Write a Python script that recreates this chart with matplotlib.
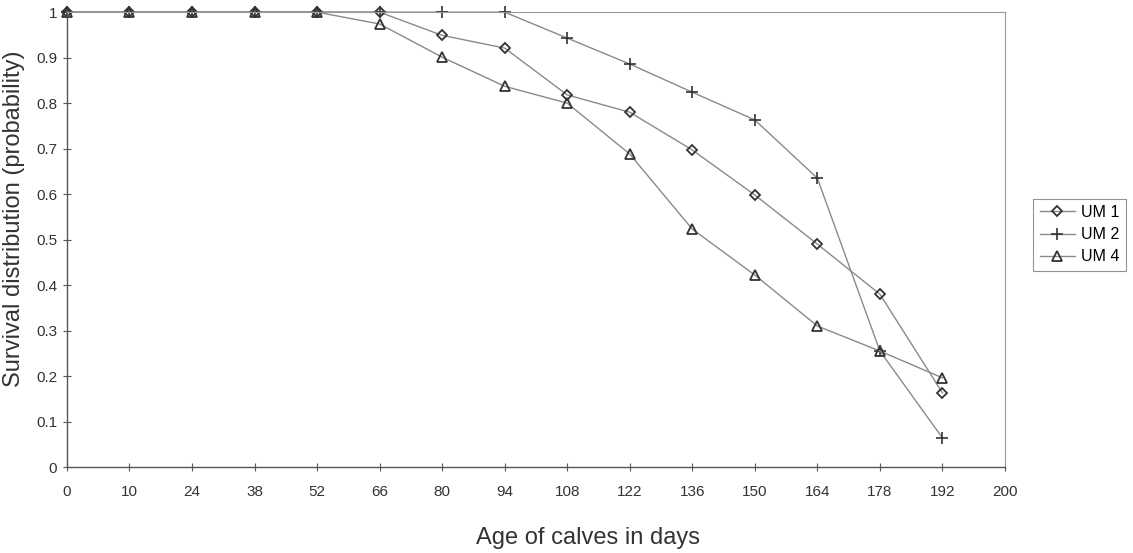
import numpy as np
import matplotlib.pyplot as plt

plt.rcParams['font.family'] = ['Liberation Sans', 'DejaVu Sans']

ages = ["0", "10", "24", "38", "52", "66", "80", "94", "108", "122", "136",
        "150", "164", "178", "192", "200"]
um1 = [1, 1, 1, 1, 1, 1, 0.949, 0.921, 0.818, 0.78, 0.697, 0.598, 0.49, 0.38, 0.163]
um2 = [1, 1, 1, 1, 1, 1, 1, 1, 0.943, 0.886, 0.824, 0.763, 0.635, 0.255, 0.064]
um4 = [1, 1, 1, 1, 1, 0.974, 0.901, 0.837, 0.8, 0.688, 0.523, 0.422, 0.31, 0.255, 0.196]
y_ticks = [0, 0.1, 0.2, 0.3, 0.4, 0.5, 0.6, 0.7, 0.8, 0.9, 1]


def main():
    fig = plt.figure(figsize=(11.33, 5.53), dpi=100)
    ax = fig.add_axes([0.0591, 0.1555, 0.8279, 0.8225])

    line_col = "#8a8a8a"
    mk_col = "#333333"
    x = np.arange(len(um1))
    ax.plot(x, um1, color=line_col, lw=1, marker="D", ms=5.5, mfc="none",
            mec=mk_col, mew=1.3, label="UM 1", clip_on=False)
    ax.plot(x, um2, color=line_col, lw=1, marker="+", ms=9, mec=mk_col,
            mew=1.2, label="UM 2", clip_on=False)
    ax.plot(x, um4, color=line_col, lw=1, marker="^", ms=7, mfc="none",
            mec=mk_col, mew=1.3, label="UM 4", clip_on=False)

    ax.set_xlim(0, len(ages) - 1)
    ax.set_ylim(0, 1)
    ax.set_xticks(np.arange(len(ages)))
    ax.set_xticklabels(ages)
    ax.set_yticks(y_ticks)
    ax.set_yticklabels([f"{v:g}" for v in y_ticks])
    ax.tick_params(axis="both", direction="inout", length=6, width=0.8,
                   color="#555555", labelsize=11, labelcolor="#333333")
    ax.tick_params(axis="x", pad=10)
    ax.tick_params(axis="y", pad=4)

    for side in ["left", "bottom"]:
        ax.spines[side].set_color("#555555")
        ax.spines[side].set_linewidth(1.0)
    for side in ["top", "right"]:
        ax.spines[side].set_color("#9a9a9a")
        ax.spines[side].set_linewidth(0.8)

    # axis titles placed like the original Excel chart
    fig.text(588 / 1133, 1 - 538 / 553, "Age of calves in days", fontsize=17,
             color="#333333", ha="center", va="center")
    fig.text(14 / 1133, 1 - 219 / 553, "Survival distribution (probability)",
             fontsize=17, color="#333333", ha="center", va="center",
             rotation=90)

    leg = ax.legend(loc="upper left", bbox_to_anchor=(1.03, 0.59),
                    fontsize=11.5, frameon=True, fancybox=False, handlelength=2.2,
                    handletextpad=0.4, borderpad=0.4, labelspacing=0.45,
                    borderaxespad=0)
    leg.get_frame().set_edgecolor("#777777")
    leg.get_frame().set_linewidth(0.8)

    fig.savefig("out.png", dpi=100)


if __name__ == "__main__":
    main()
